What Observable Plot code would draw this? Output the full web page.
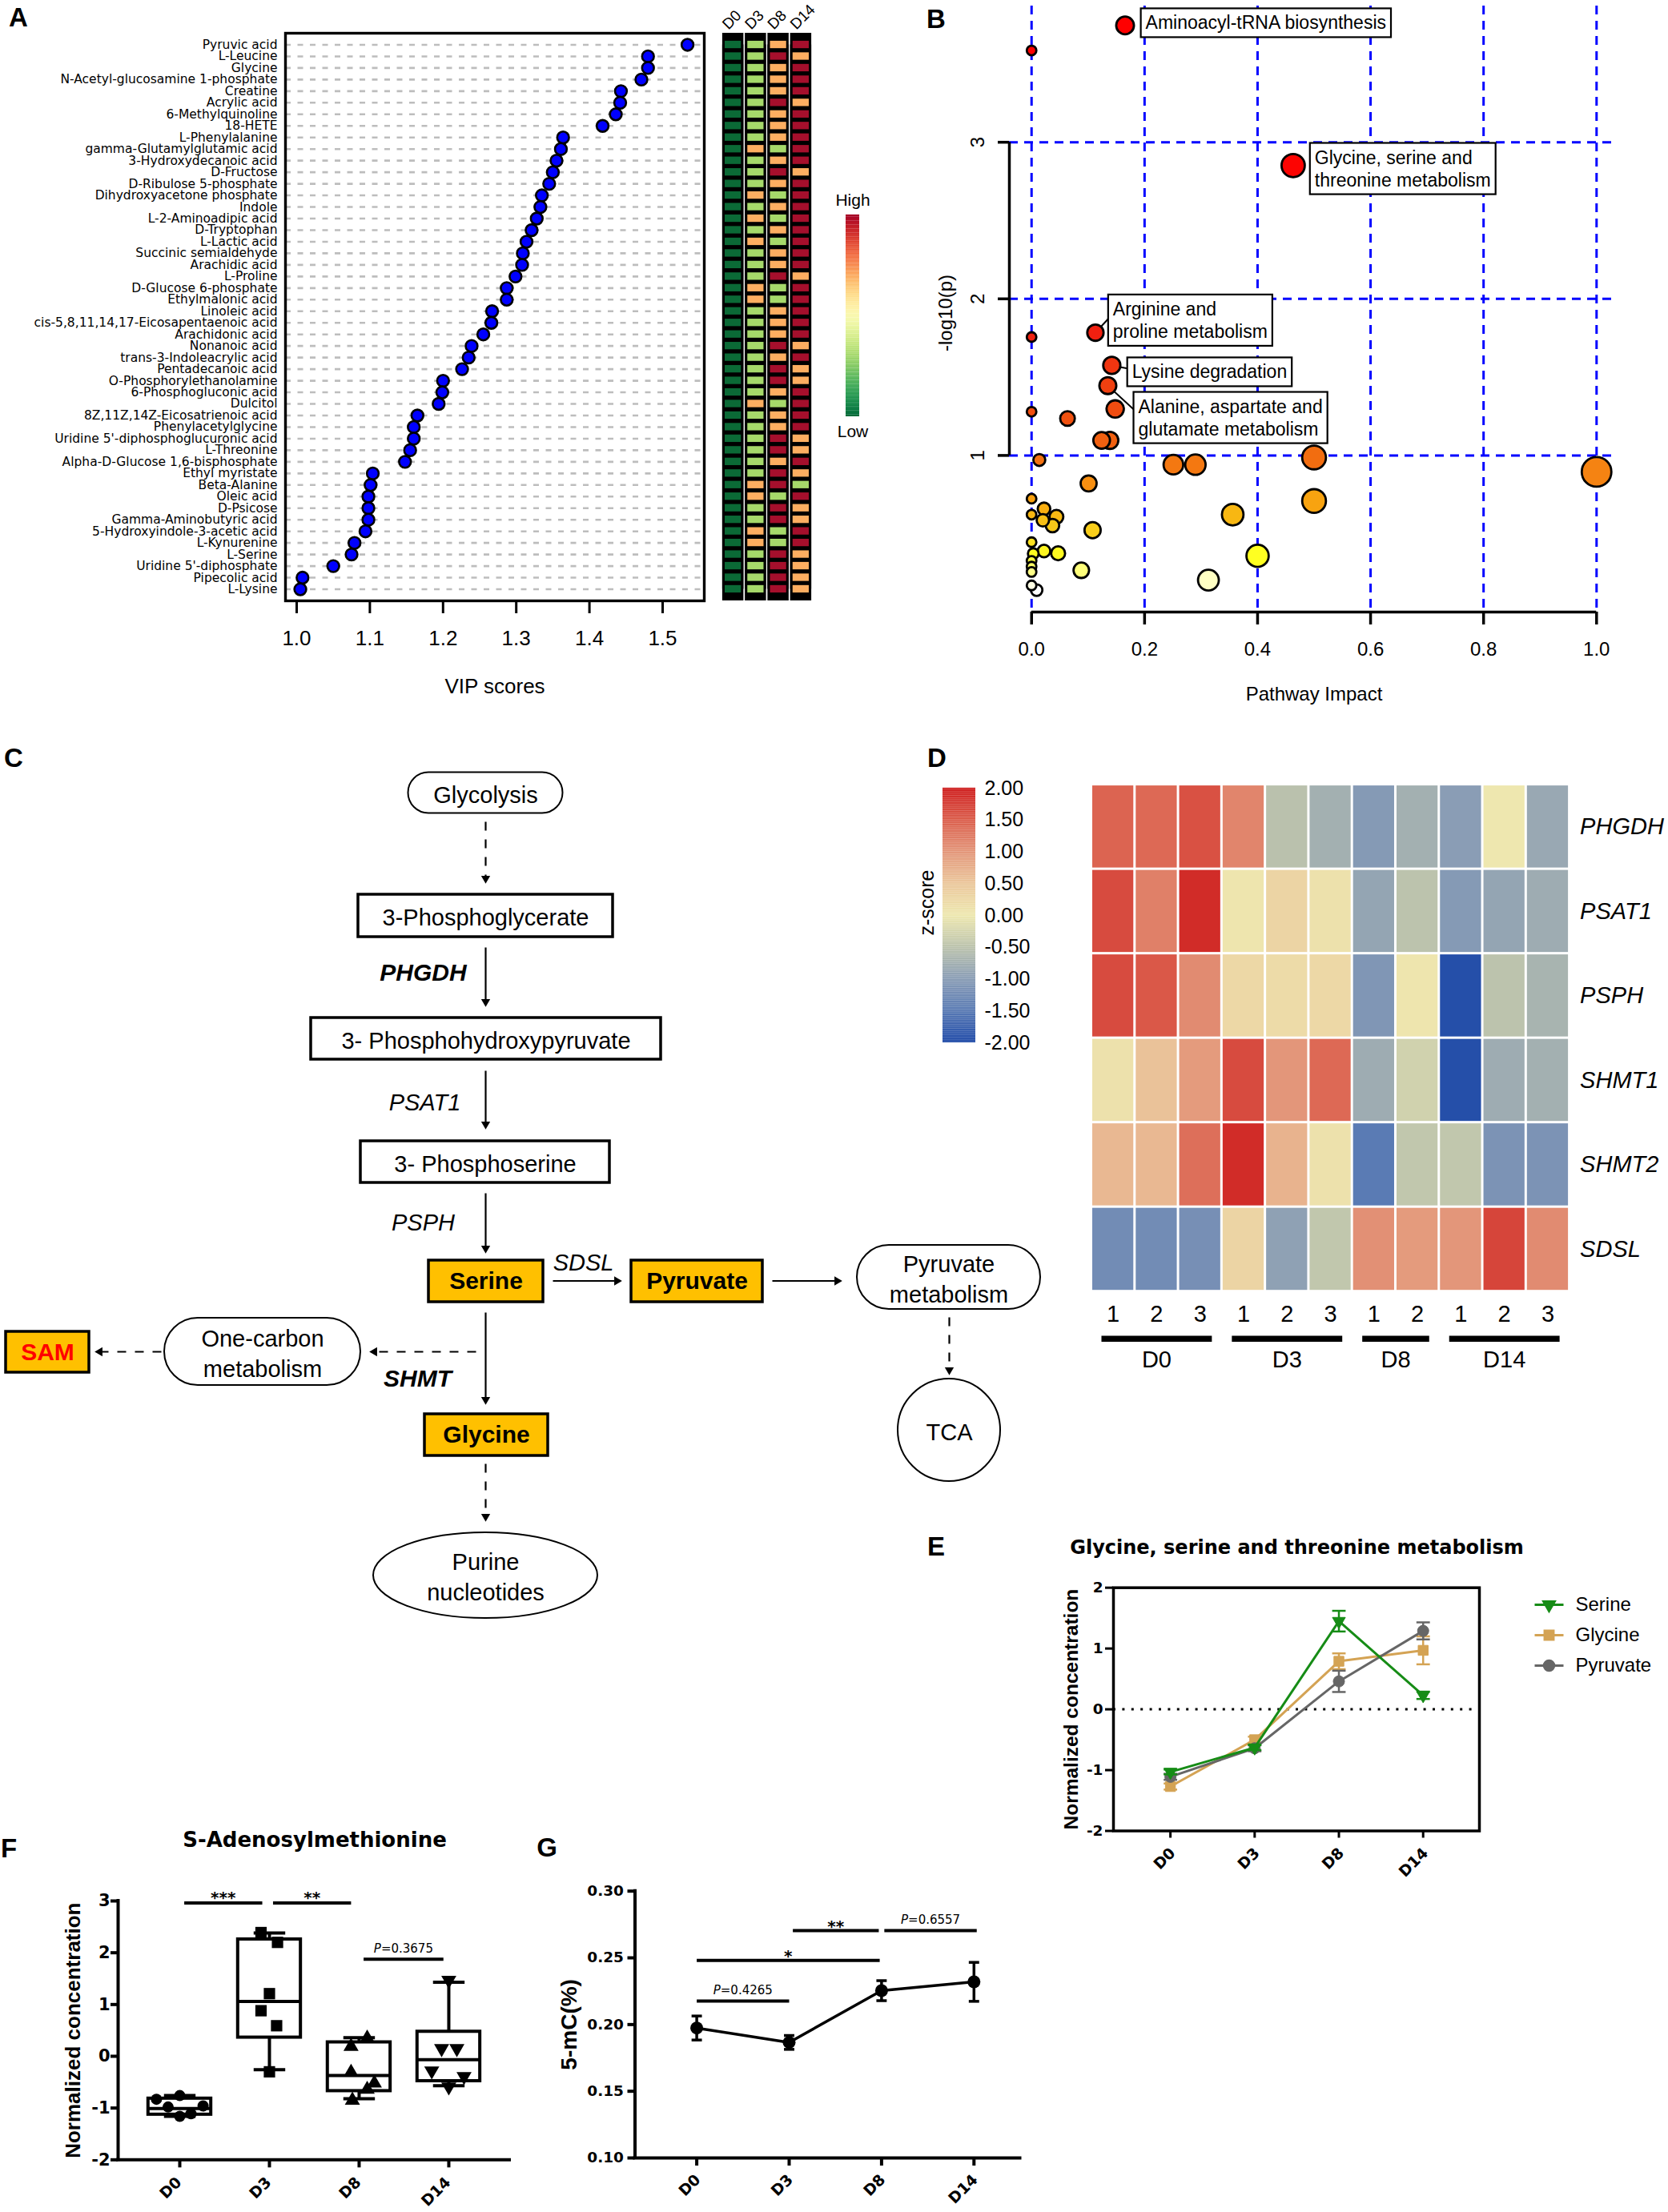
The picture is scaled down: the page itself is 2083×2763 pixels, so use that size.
<!DOCTYPE html>
<html>
<head>
<meta charset="utf-8">
<script src="https://cdn.jsdelivr.net/npm/d3@7"></script>
<script src="https://cdn.jsdelivr.net/npm/@observablehq/plot@0.6"></script>
<style>
html,body{margin:0;padding:0;background:#fff;}
#fig{position:relative;width:2083px;height:2763px;background:#fff;overflow:hidden;font-family:"Liberation Sans",Arial,Helvetica,sans-serif;color:#000;}
.panel{position:absolute;line-height:0;}
.panel svg{overflow:visible;max-width:none !important;}
.txt{position:absolute;white-space:nowrap;line-height:1;transform:translate(-50%,-50%);}
</style>
</head>
<body>
<div id="fig"></div>
<script>
// ================= DATA =================
// Panel A: VIP scores
const metabolites = ["Pyruvic acid","L-Leucine","Glycine","N-Acetyl-glucosamine 1-phosphate","Creatine","Acrylic acid","6-Methylquinoline","18-HETE","L-Phenylalanine","gamma-Glutamylglutamic acid","3-Hydroxydecanoic acid","D-Fructose","D-Ribulose 5-phosphate","Dihydroxyacetone phosphate","Indole","L-2-Aminoadipic acid","D-Tryptophan","L-Lactic acid","Succinic semialdehyde","Arachidic acid","L-Proline","D-Glucose 6-phosphate","Ethylmalonic acid","Linoleic acid","cis-5,8,11,14,17-Eicosapentaenoic acid","Arachidonic acid","Nonanoic acid","trans-3-Indoleacrylic acid","Pentadecanoic acid","O-Phosphorylethanolamine","6-Phosphogluconic acid","Dulcitol","8Z,11Z,14Z-Eicosatrienoic acid","Phenylacetylglycine","Uridine 5'-diphosphoglucuronic acid","L-Threonine","Alpha-D-Glucose 1,6-bisphosphate","Ethyl myristate","Beta-Alanine","Oleic acid","D-Psicose","Gamma-Aminobutyric acid","5-Hydroxyindole-3-acetic acid","L-Kynurenine","L-Serine","Uridine 5'-diphosphate","Pipecolic acid","L-Lysine"];
const vipScores = [1.534,1.480,1.480,1.471,1.443,1.442,1.436,1.418,1.364,1.361,1.355,1.350,1.345,1.335,1.333,1.328,1.321,1.314,1.309,1.308,1.299,1.287,1.287,1.267,1.266,1.255,1.239,1.235,1.226,1.200,1.199,1.194,1.165,1.160,1.160,1.155,1.148,1.104,1.101,1.098,1.098,1.098,1.094,1.079,1.075,1.050,1.008,1.005];
const vipTicks = [1.0,1.1,1.2,1.3,1.4,1.5];
const stripDays = ["D0","D3","D8","D14"];
// relative level (1 = low ... 4 = high)
const levelD0 = [1,1,1,1,1,1,1,1,1,1,1,1,1,1,1,1,1,1,1,1,1,1,1,1,1,1,1,1,1,1,1,1,1,1,1,1,1,1,1,1,1,1,1,1,1,1,1,1];
const levelD3 = [2,2,2,2,2,2,2,2,2,3,2,2,2,3,2,3,2,3,2,2,2,3,3,2,2,2,2,2,2,2,2,3,2,2,2,2,2,2,3,3,2,2,3,3,2,2,2,2];
const levelD8 = [3,4,3,3,3,4,3,3,3,2,3,4,3,2,3,2,3,2,3,3,4,2,2,3,3,3,4,3,4,4,3,2,3,3,4,4,3,4,4,2,4,4,2,2,4,4,4,4];
const levelD14 = [4,3,4,4,4,3,4,4,4,4,4,3,4,4,4,4,4,4,4,4,3,4,4,4,4,4,3,4,3,3,4,4,4,4,3,3,4,3,2,4,3,3,4,4,3,3,3,3];

// Panel B: pathway analysis
const pathwayImpact = [0.1655,0.000,0.463,0.113,0.000,0.142,0.135,0.148,0.000,0.0636,0.124,0.1385,0.0137,0.251,0.290,0.500,1.000,0.101,0.500,0.356,0.000,0.022,0.000,0.044,0.020,0.037,0.108,0.400,0.000,0.022,0.047,0.003,0.000,0.000,0.000,0.088,0.313,0.000,0.009];
const pathwayLogP = [3.746,3.586,2.851,1.784,1.756,1.575,1.446,1.297,1.279,1.236,1.096,1.096,0.971,0.941,0.941,0.987,0.895,0.821,0.709,0.622,0.724,0.659,0.622,0.608,0.586,0.552,0.523,0.359,0.446,0.390,0.375,0.373,0.327,0.290,0.256,0.267,0.204,0.170,0.140];
const bXTicks = [0,0.2,0.4,0.6,0.8,1.0];
const bYTicks = [1,2,3];
const bLabels = [
  {text:"Aminoacyl-tRNA biosynthesis", x:0.2018, y:3.768},
  {text:"Glycine, serine and\nthreonine metabolism", x:0.5011, y:2.837},
  {text:"Arginine and\nproline metabolism", x:0.144, y:1.869},
  {text:"Lysine degradation", x:0.1778, y:1.539},
  {text:"Alanine, aspartate and\nglutamate metabolism", x:0.1889, y:1.247}
];
const bLeaders = [
  {x1:0.113, y1:1.784, x2:0.139, y2:1.885},
  {x1:0.142, y1:1.575, x2:0.1716, y2:1.554},
  {x1:0.135, y1:1.446, x2:0.187, y2:1.273}
];

// Panel C: pathway diagram
const flowNodes = [
  {id:"gly", label:"Glycolysis", kind:"pathway"},
  {id:"pg3", label:"3-Phosphoglycerate", kind:"step"},
  {id:"php", label:"3- Phosphohydroxypyruvate", kind:"step"},
  {id:"ps", label:"3- Phosphoserine", kind:"step"},
  {id:"ser", label:"Serine", kind:"hit"},
  {id:"pyr", label:"Pyruvate", kind:"hit"},
  {id:"pyrm", label:"Pyruvate\nmetabolism", kind:"pathway"},
  {id:"tca", label:"TCA", kind:"circle"},
  {id:"one", label:"One-carbon\nmetabolism", kind:"pathway"},
  {id:"sam", label:"SAM", kind:"target"},
  {id:"glyc", label:"Glycine", kind:"hit"},
  {id:"pur", label:"Purine\nnucleotides", kind:"ellipse"}
];
const flowEdges = [
  {from:"gly", to:"pg3", line:"dashed"},
  {from:"pg3", to:"php", line:"solid"},
  {from:"php", to:"ps", line:"solid"},
  {from:"ps", to:"ser", line:"solid"},
  {from:"ser", to:"pyr", line:"solid"},
  {from:"pyr", to:"pyrm", line:"solid"},
  {from:"pyrm", to:"tca", line:"dashed"},
  {from:"ser", to:"glyc", line:"solid"},
  {from:"ser", to:"one", line:"dashed"},
  {from:"one", to:"sam", line:"dashed"},
  {from:"glyc", to:"pur", line:"dashed"}
];
const flowGenes = [
  {label:"PHGDH", bold:true, after:"pg3"},
  {label:"PSAT1", bold:false, after:"php"},
  {label:"PSPH", bold:false, after:"ps"},
  {label:"SDSL", bold:false, after:"ser"},
  {label:"SHMT", bold:true, after:"ser"}
];

// Panel D: gene expression z-scores
const genes = ["PHGDH","PSAT1","PSPH","SHMT1","SHMT2","SDSL"];
const sampleGroups = ["D0","D0","D0","D3","D3","D3","D8","D8","D14","D14","D14"];
const sampleReps = [1,2,3,1,2,3,1,2,1,2,3];
const zPHGDH = [1.45,1.40,1.60,1.15,-0.52,-0.75,-1.05,-0.75,-1.00,0.02,-0.85];
const zPSAT1 = [1.65,1.20,1.90,0.05,0.30,0.10,-0.90,-0.50,-1.05,-0.90,-0.80];
const zPSPH  = [1.65,1.55,1.10,0.25,0.20,0.25,-1.10,0.05,-1.95,-0.50,-0.70];
const zSHMT1 = [0.10,0.55,0.95,1.65,1.00,1.40,-0.80,-0.30,-1.95,-0.80,-0.75];
const zSHMT2 = [0.65,0.65,1.35,1.90,0.70,0.10,-1.50,-0.45,-0.45,-1.15,-1.15];
const zSDSL  = [-1.25,-1.25,-1.20,0.30,-0.95,-0.45,1.05,0.95,1.00,1.70,1.10];
const zLegendTicks = [2,1.5,1,0.5,0,-0.5,-1,-1.5,-2];

// Panel E: normalized concentrations (mean, SEM)
const eDays = ["D0","D3","D8","D14"];
const serineMean = [-1.03,-0.63,1.45,0.23];
const serineSem = [0.04,0.04,0.17,0.06];
const glycineMean = [-1.27,-0.50,0.79,0.97];
const glycineSem = [0.05,0.05,0.13,0.23];
const pyruvateMean = [-1.11,-0.64,0.46,1.29];
const pyruvateSem = [0.05,0.05,0.175,0.14];
const eYTicks = [-2,-1,0,1,2];

// Panel F: S-Adenosylmethionine box plots
const fGroups = ["D0","D3","D8","D14"];
const fMin = [-1.16,-0.26,-0.82,-0.57];
const fQ1 = [-1.127,0.362,-0.672,-0.48];
const fMedian = [-1.008,1.06,-0.372,-0.067];
const fQ3 = [-0.817,2.258,0.27,0.475];
const fMax = [-0.76,2.38,0.36,1.43];
const fValuesD0 = [-0.83,-0.76,-0.98,-1.16,-1.11,-0.96];
const fValuesD3 = [2.39,2.20,1.21,0.88,0.59,-0.30];
const fValuesD8 = [0.35,0.19,-0.31,-0.52,-0.64,-0.85];
const fValuesD14 = [1.47,0.15,0.15,-0.28,-0.39,-0.59];
const fJitterD0 = [-0.26,0,-0.13,0,0.125,0.26];
const fJitterD3 = [-0.094,0.09,0,-0.094,0.08,0];
const fJitterD8 = [0.09,-0.09,-0.09,0.17,0.09,-0.075];
const fJitterD14 = [0,-0.08,0.09,-0.19,0.17,0];
const fYTicks = [-2,-1,0,1,2,3];
const fSig = [
  {x1:0.05, x2:0.92, y:2.96, label:"***", kind:"star"},
  {x1:1.04, x2:1.91, y:2.96, label:"**", kind:"star"},
  {x1:2.05, x2:2.94, y:1.876, label:"0.3675", kind:"p"}
];

// Panel G: 5-mC (%)
const mcMean = [0.1974,0.1866,0.2254,0.2320];
const mcSem = [0.0090,0.0052,0.0075,0.0146];
const gYTicks = [0.10,0.15,0.20,0.25,0.30];
const gSig = [
  {x1:0, x2:1.0, y:0.2176, label:"0.4265", kind:"p"},
  {x1:0, x2:1.98, y:0.248, label:"*", kind:"star"},
  {x1:1.04, x2:1.97, y:0.2704, label:"**", kind:"star"},
  {x1:2.03, x2:3.03, y:0.2704, label:"0.6557", kind:"p"}
];

// ================= LAYOUT / HELPERS =================
const FONT = '"Liberation Sans", Arial, Helvetica, sans-serif';
const WIDE = '"DejaVu Sans", Verdana, sans-serif';
const fig = document.getElementById("fig");
const baseStyle = {fontFamily: FONT, background: "transparent", overflow: "visible", color: "#000", maxWidth: "none"};

function place(node, left, top) {
  const d = document.createElement("div");
  d.className = "panel";
  d.style.left = left + "px";
  d.style.top = top + "px";
  d.appendChild(node);
  fig.appendChild(d);
  return node;
}
function htmlText(txt, cx, cy, css) {
  const d = document.createElement("div");
  d.className = "txt";
  d.textContent = txt;
  d.style.left = cx + "px";
  d.style.top = cy + "px";
  Object.assign(d.style, css || {});
  fig.appendChild(d);
}

// ---------- Panel letters ----------
const panelLetters = ["A","B","C","D","E","F","G"];
const letterPos = [[23,21],[1169,23],[17,946],[1170,946],[1169,1931],[11,2308],[683,2307]];
panelLetters.forEach((L, i) => htmlText(L, letterPos[i][0], letterPos[i][1], {fontWeight: "bold", fontSize: "33px", fontFamily: FONT}));

// ================= PANEL A =================
const vipRows = metabolites.map((name, i) => ({name, vip: vipScores[i]}));
const chartA = Plot.plot({
  width: 890, height: 880,
  marginLeft: 356, marginRight: 11, marginTop: 41, marginBottom: 130,
  x: {domain: [0.9847, 1.5569], axis: null},
  y: {type: "point", domain: metabolites, padding: 1, round: false, axis: null},
  style: baseStyle,
  marks: [
    Plot.ruleY(metabolites, {y: d => d, stroke: "#bdbdbd", strokeWidth: 2.6, strokeDasharray: "7,8.5"}),
    Plot.dot(vipRows, {x: "vip", y: "name", r: 7.4, fill: "#0000ff", stroke: "#000", strokeWidth: 2.6}),
    Plot.frame({stroke: "#000", strokeWidth: 3.4}),
    Plot.text(metabolites, {y: d => d, frameAnchor: "left", dx: -10, textAnchor: "end", fontFamily: WIDE, fontSize: 15.5}),
    Plot.ruleX(vipTicks, {x: d => d, insetTop: 709, insetBottom: -16, strokeWidth: 3}),
    Plot.text(vipTicks, {x: d => d, frameAnchor: "bottom", textAnchor: "middle", dy: 55, text: d => d.toFixed(1), fontSize: 26}),
    Plot.text(["VIP scores"], {frameAnchor: "bottom", textAnchor: "middle", dy: 115, fontSize: 26})
  ]
});
place(chartA, 0, 0);

const stripLevels = [levelD0, levelD3, levelD8, levelD14];
const stripRows = [];
metabolites.forEach((name, i) => stripDays.forEach((day, j) => stripRows.push({name, day, level: stripLevels[j][i]})));
const chartA2 = Plot.plot({
  width: 145, height: 880,
  marginLeft: 11, marginRight: 21, marginTop: 48.3, marginBottom: 137.3,
  x: {type: "band", domain: stripDays, padding: 0, round: false, axis: null},
  y: {type: "band", domain: metabolites, padding: 0, round: false, axis: null},
  color: {type: "ordinal", domain: [1,2,3,4], range: ["#0b6a36","#a6d96a","#fdae61","#a50f2c"]},
  style: baseStyle,
  marks: [
    Plot.cell(stripRows, {x: "day", y: "name", fill: "#000", insetLeft: 0.9, insetRight: 0.9, insetTop: -7.3, insetBottom: -7.3}),
    Plot.cell(stripRows, {x: "day", y: "name", fill: "level", insetLeft: 4, insetRight: 4, insetTop: 2.6, insetBottom: 2.6}),
    Plot.text(stripDays, {x: d => d, frameAnchor: "top", dx: -6, dy: -11, rotate: -45, textAnchor: "start", lineAnchor: "bottom", fontSize: 19})
  ]
});
place(chartA2, 890, 0);

const rampA = d3.range(0, 1, 0.01);
const chartA3 = Plot.plot({
  width: 60, height: 340,
  marginLeft: 21, marginRight: 22, marginTop: 38, marginBottom: 50,
  x: {domain: [0, 1], axis: null}, y: {domain: [0, 1], axis: null},
  color: {type: "identity"},
  style: baseStyle,
  marks: [
    Plot.rect(rampA, {x1: 0, x2: 1, y1: d => d, y2: d => d + 0.0105, fill: d => d3.interpolateRdYlGn(1 - d - 0.005)}),
    Plot.text(["High"], {frameAnchor: "top", textAnchor: "middle", dy: -26, fontSize: 21}),
    Plot.text(["Low"], {frameAnchor: "bottom", textAnchor: "middle", dy: 25, fontSize: 21})
  ]
});
place(chartA3, 1035, 230);

// ================= PANEL B =================
const pathwayRows = pathwayImpact.map((impact, i) => ({impact, logp: pathwayLogP[i]}));
const bXDomain = [-0.0393, 1.0336];
const chartB = Plot.plot({
  width: 963, height: 880,
  marginLeft: 140, marginRight: 66, marginTop: 7, marginBottom: 116,
  x: {domain: bXDomain, axis: null},
  y: {domain: [0, 3.87], axis: null},
  r: {type: "sqrt", domain: [0, 1], range: [6, 18.5]},
  color: {type: "linear", domain: [0.14,0.20,0.27,0.36,0.45,0.55,0.65,0.75,0.90,1.00,1.25,1.50,1.80,3.00],
          range: ["#ffffff","#ffffc8","#ffff78","#ffff20","#fce020","#f8c818","#f8b010","#f89a10","#f58212","#f26a10","#f05010","#f03c10","#f01e10","#ff0000"], clamp: true},
  style: baseStyle,
  marks: [
    Plot.ruleX(bXTicks, {x: d => d, stroke: "#0000ff", strokeWidth: 3, strokeDasharray: "11,8"}),
    Plot.ruleY(bYTicks, {y: d => d, stroke: "#0000ff", strokeWidth: 3, strokeDasharray: "11,8"}),
    Plot.ruleY([0], {x1: bXTicks[0], x2: bXTicks[bXTicks.length - 1], strokeWidth: 3.5}),
    Plot.ruleX(bXTicks, {x: d => d, y1: 0, y2: 0, insetBottom: -16, strokeWidth: 3.5}),
    Plot.text(bXTicks, {x: d => d, y: 0, dy: 47, text: d => d.toFixed(1), fontSize: 24}),
    Plot.text(["Pathway Impact"], {x: 0.5, y: 0, dy: 103, fontSize: 24}),
    Plot.ruleX([bXDomain[0]], {y1: bYTicks[0], y2: bYTicks[bYTicks.length - 1], strokeWidth: 3.5}),
    Plot.ruleY(bYTicks, {y: d => d, x1: bXDomain[0], x2: bXDomain[0], insetLeft: -14, strokeWidth: 3.5}),
    Plot.text(bYTicks, {y: d => d, x: bXDomain[0], dx: -39, rotate: -90, text: d => String(d), fontSize: 24}),
    Plot.text(["-log10(p)"], {frameAnchor: "left", textAnchor: "middle", dx: -79, dy: 5, rotate: -90, fontSize: 24}),
    Plot.link(bLeaders, {x1: "x1", y1: "y1", x2: "x2", y2: "y2", strokeWidth: 2}),
    Plot.dot(pathwayRows, {x: "impact", y: "logp", r: "impact", fill: "logp", stroke: "#000", strokeWidth: 2.8}),
    Plot.text(bLabels, {x: "x", y: "y", text: "text", textAnchor: "start", lineAnchor: "middle", fontSize: 23, lineHeight: 1.22})
  ]
});
place(chartB, 1120, 0);
// boxes behind the pathway labels
const boxTexts = new Set(bLabels.map(d => d.text.replace(/\n/g, "")));
Array.from(chartB.querySelectorAll("text")).forEach(t => {
  if (!boxTexts.has(t.textContent)) return;
  const b = t.getBBox();
  const r = document.createElementNS("http://www.w3.org/2000/svg", "rect");
  r.setAttribute("x", b.x - 6);
  r.setAttribute("y", b.y - 5);
  r.setAttribute("width", b.width + 12);
  r.setAttribute("height", b.height + 10);
  r.setAttribute("fill", "#fff");
  r.setAttribute("stroke", "#000");
  r.setAttribute("stroke-width", "2.2");
  if (t.getAttribute("transform")) r.setAttribute("transform", t.getAttribute("transform"));
  t.parentNode.insertBefore(r, t);
});

// ================= PANEL C =================
// diagram layout (center x, center y, width, height) in figure pixels
const flowLayout = {
  gly:[606,990,193,51], pg3:[606,1143.5,318,53], php:[606.5,1297,437,52], ps:[605.5,1451,311,52],
  ser:[606.5,1600,143,52], pyr:[870,1600,164,52], pyrm:[1184.5,1595,229,80], tca:[1185,1786,128,128],
  one:[327.5,1688,245,84], sam:[59,1688.5,104,51], glyc:[607,1792,154,52], pur:[606,1967.5,280,107]
};
const edgeLayout = {
  "gly-pg3":[606,1026,606,1103], "pg3-php":[606,1183,606,1257], "php-ps":[606,1337,606,1410],
  "ps-ser":[606,1490,606,1565], "ser-pyr":[690,1599.5,776,1599.5], "pyr-pyrm":[964,1599.5,1051,1599.5],
  "pyrm-tca":[1185,1645,1185,1717], "ser-glyc":[606,1639,606,1754], "ser-one":[594,1688,461,1688],
  "one-sam":[201,1688,118,1688], "glyc-pur":[606,1828,606,1900]
};
const geneLayout = {PHGDH:[528,1215], PSAT1:[530,1377], PSPH:[528,1527], SDSL:[728,1577], SHMT:[521,1722]};

const nodeRows = flowNodes.map(n => { const [cx, cy, w, h] = flowLayout[n.id]; return {...n, cx, cy, w, h}; });
const edgeRows = flowEdges.map(e => {
  const [x1, y1, x2, y2] = edgeLayout[e.from + "-" + e.to];
  const L = Math.hypot(x2 - x1, y2 - y1), ux = (x2 - x1) / L, uy = (y2 - y1) / L;
  return {...e, x1, y1, x2, y2, ux, uy, angle: Math.atan2(ux, -uy) * 180 / Math.PI};
});
const geneRows = flowGenes.map(g => ({...g, x: geneLayout[g.label][0], y: geneLayout[g.label][1]}));
const HEAD = 9, HEADC = 6.2;
const nodeMarks = nodeRows.map(n => {
  const hl = n.kind === "hit" || n.kind === "target";
  const round = n.kind === "pathway" ? {rx: n.h / 2, ry: n.h / 2}
    : (n.kind === "ellipse" || n.kind === "circle") ? {rx: n.w / 2, ry: n.h / 2} : {};
  return Plot.rect([n], {
    x1: d => d.cx - d.w / 2, x2: d => d.cx + d.w / 2, y1: d => d.cy - d.h / 2, y2: d => d.cy + d.h / 2,
    fill: hl ? "#ffc000" : "#ffffff", stroke: "#000", strokeWidth: (n.kind === "step" || hl) ? 3.5 : 2, ...round
  });
});
const chartC = Plot.plot({
  width: 1340, height: 1140, margin: 0,
  x: {domain: [0, 1340], range: [0, 1340], axis: null},
  y: {domain: [910, 2050], range: [0, 1140], axis: null},
  style: baseStyle,
  marks: [
    Plot.link(edgeRows.filter(e => e.line === "solid"), {x1: "x1", y1: "y1", x2: d => d.x2 - d.ux * HEAD, y2: d => d.y2 - d.uy * HEAD, strokeWidth: 2.2}),
    Plot.link(edgeRows.filter(e => e.line === "dashed"), {x1: "x1", y1: "y1", x2: d => d.x2 - d.ux * HEAD, y2: d => d.y2 - d.uy * HEAD, strokeWidth: 2.2, strokeDasharray: "11,11"}),
    Plot.dot(edgeRows, {x: d => d.x2 - d.ux * HEADC, y: d => d.y2 - d.uy * HEADC, symbol: "triangle", r: 4.2, fill: "#000", rotate: "angle"}),
    ...nodeMarks,
    Plot.text(nodeRows.filter(n => ["step","pathway","ellipse","circle"].includes(n.kind)), {x: "cx", y: "cy", text: "label", fontSize: 29, lineHeight: 1.31}),
    Plot.text(nodeRows.filter(n => n.kind === "hit"), {x: "cx", y: "cy", text: "label", fontSize: 30, fontWeight: "bold"}),
    Plot.text(nodeRows.filter(n => n.kind === "target"), {x: "cx", y: "cy", text: "label", fontSize: 30, fontWeight: "bold", fill: "#ff0000"}),
    Plot.text(geneRows.filter(g => g.bold), {x: "x", y: "y", text: "label", fontSize: 30, fontWeight: "bold", fontStyle: "italic"}),
    Plot.text(geneRows.filter(g => !g.bold), {x: "x", y: "y", text: "label", fontSize: 29, fontStyle: "italic"})
  ]
});
place(chartC, 0, 910);

// ================= PANEL D =================
const zByGene = [zPHGDH, zPSAT1, zPSPH, zSHMT1, zSHMT2, zSDSL];
const dCells = [];
genes.forEach((g, r) => zByGene[r].forEach((z, c) => dCells.push({gene: g, row: r, col: c, z})));
const dGroups = Array.from(d3.group(sampleGroups.map((g, i) => ({g, i})), d => d.g), ([name, v]) => ({name, first: v[0].i, last: v[v.length - 1].i}));
const zDomain = [-2,-1.5,-1,-0.5,0,0.5,1,1.5,2];
const zColors = ["#1f4aa8","#5a7bb4","#8a9db5","#bcc3ad","#eee8b0","#ebc79c","#e3967a","#db5e4c","#cf1f1f"];
const nCols = sampleGroups.length, nRows = genes.length;
const chartD = Plot.plot({
  width: 943, height: 840,
  marginLeft: 222.5, marginRight: 123.4, marginTop: 69.6, marginBottom: 137.3,
  x: {domain: [-0.5, nCols - 0.5], axis: null},
  y: {domain: [-0.5, nRows - 0.5], reverse: true, axis: null},
  color: {type: "linear", domain: zDomain, range: zColors, clamp: true},
  style: baseStyle,
  marks: [
    Plot.rect(dCells, {x1: d => d.col - 0.5, x2: d => d.col + 0.5, y1: d => d.row - 0.5, y2: d => d.row + 0.5, fill: "z", inset: 1.5}),
    Plot.text(genes, {x: nCols - 0.5, y: (d, i) => i, dx: 13, textAnchor: "start", fontStyle: "italic", fontSize: 29}),
    Plot.text(sampleReps, {x: (d, i) => i, y: nRows - 0.5, dy: 28.3, text: d => String(d), fontSize: 29}),
    Plot.link(dGroups, {x1: d => d.first - 0.27, x2: d => d.last + 0.27, y1: nRows - 0.5, y2: nRows - 0.5, dy: 59, strokeWidth: 7.5}),
    Plot.text(dGroups, {x: d => (d.first + d.last) / 2, y: nRows - 0.5, dy: 85.3, text: "name", fontSize: 29})
  ]
});
place(chartD, 1140, 910);

const rampD = d3.range(-2, 2, 0.02);
const chartDL = Plot.plot({
  width: 140, height: 370,
  marginLeft: 37, marginRight: 62, marginTop: 24, marginBottom: 28,
  x: {domain: [0, 1], axis: null}, y: {domain: [-2, 2], axis: null},
  color: {type: "linear", domain: zDomain, range: zColors, clamp: true},
  style: baseStyle,
  marks: [
    Plot.rect(rampD, {x1: 0, x2: 1, y1: d => d, y2: d => d + 0.022, fill: d => d + 0.01}),
    Plot.text(zLegendTicks, {x: 1, y: d => d, dx: 11, textAnchor: "start", text: d => d.toFixed(2), fontSize: 25}),
    Plot.text(["z-score"], {frameAnchor: "left", textAnchor: "middle", dx: -20, dy: -16, rotate: -90, fontSize: 25})
  ]
});
place(chartDL, 1140, 960);

// ================= PANEL E =================
const eSeries = [
  {name: "Serine", mean: serineMean, sem: serineSem},
  {name: "Glycine", mean: glycineMean, sem: glycineSem},
  {name: "Pyruvate", mean: pyruvateMean, sem: pyruvateSem}
];
const eColors = {Serine: "#168c16", Glycine: "#d4a354", Pyruvate: "#666666"};
const eSymbols = {Serine: "triangle", Glycine: "square", Pyruvate: "circle"};
const eRows = [];
eSeries.forEach(s => s.mean.forEach((m, i) => eRows.push({series: s.name, i, mean: m, lo: m - s.sem[i], hi: m + s.sem[i]})));
const eXDomain = [-0.676, 3.668];
const ECAP = 0.08;
const eDrawOrder = ["Glycine", "Pyruvate", "Serine"];
const eSeriesMarks = eDrawOrder.flatMap(name => {
  const rows = eRows.filter(d => d.series === name);
  const col = eColors[name];
  return [
    Plot.line(rows, {x: "i", y: "mean", stroke: col, strokeWidth: 3}),
    Plot.link(rows, {x1: "i", x2: "i", y1: "lo", y2: "hi", stroke: col, strokeWidth: 2.5}),
    Plot.link(rows, {x1: d => d.i - ECAP, x2: d => d.i + ECAP, y1: "hi", y2: "hi", stroke: col, strokeWidth: 2.5}),
    Plot.link(rows, {x1: d => d.i - ECAP, x2: d => d.i + ECAP, y1: "lo", y2: "lo", stroke: col, strokeWidth: 2.5}),
    Plot.dot(rows, {x: "i", y: "mean", symbol: eSymbols[name], r: name === "Serine" ? 6 : 7, fill: col, stroke: col, strokeWidth: 1, rotate: name === "Serine" ? 180 : 0})
  ];
});
const chartE = Plot.plot({
  width: 943, height: 400,
  marginLeft: 250, marginRight: 236, marginTop: 32.7, marginBottom: 63.5,
  x: {domain: eXDomain, axis: null}, y: {domain: [-2, 2], axis: null},
  style: baseStyle,
  marks: [
    Plot.ruleY([0], {strokeDasharray: "3,8.4", strokeWidth: 3}),
    ...eSeriesMarks,
    Plot.frame({stroke: "#000", strokeWidth: 3.5}),
    Plot.ruleY(eYTicks, {y: d => d, x1: eXDomain[0], x2: eXDomain[0], insetLeft: -10, strokeWidth: 3}),
    Plot.text(eYTicks, {y: d => d, x: eXDomain[0], dx: -13, textAnchor: "end", text: d => String(d), fontFamily: WIDE, fontWeight: "bold", fontSize: 18.5}),
    Plot.ruleX(eDays, {x: (d, i) => i, y1: -2, y2: -2, insetBottom: -9, strokeWidth: 3}),
    Plot.text(eDays, {x: (d, i) => i, y: -2, dx: 3, dy: 24.5, rotate: -45, textAnchor: "end", fontFamily: WIDE, fontWeight: "bold", fontSize: 19}),
    Plot.text(["Normalized concentration"], {x: eXDomain[0], y: 0, dx: -52, textAnchor: "middle", rotate: -90, fontWeight: "bold", fontSize: 24.5})
  ]
});
place(chartE, 1140, 1950);
htmlText("Glycine, serine and threonine metabolism", 1619.5, 1933, {fontFamily: WIDE, fontWeight: "bold", fontSize: "24px"});

const eLegendOrder = ["Serine", "Glycine", "Pyruvate"];
const chartEL = Plot.plot({
  width: 183, height: 120,
  marginLeft: 16, marginRight: 131, marginTop: 24, marginBottom: 20,
  x: {domain: [0, 1], axis: null},
  y: {type: "point", domain: eLegendOrder, padding: 0, round: false, axis: null},
  color: {type: "identity"},
  style: baseStyle,
  marks: [
    Plot.link(eLegendOrder, {x1: 0, x2: 1, y1: d => d, y2: d => d, stroke: d => eColors[d], strokeWidth: 3}),
    ...eLegendOrder.map(name => Plot.dot([name], {x: 0.5, y: d => d, symbol: eSymbols[name], r: name === "Serine" ? 6 : 7, fill: eColors[name], stroke: eColors[name], rotate: name === "Serine" ? 180 : 0})),
    Plot.text(eLegendOrder, {x: 1, y: d => d, dx: 15, textAnchor: "start", fontSize: 24})
  ]
});
place(chartEL, 1900, 1980);

// ================= PANEL F =================
const fValues = [fValuesD0, fValuesD3, fValuesD8, fValuesD14];
const fJitter = [fJitterD0, fJitterD3, fJitterD8, fJitterD14];
const fBoxes = fGroups.map((g, i) => ({g, i, min: fMin[i], q1: fQ1[i], med: fMedian[i], q3: fQ3[i], max: fMax[i]}));
const fPoints = [];
fGroups.forEach((g, i) => fValues[i].forEach((v, k) => fPoints.push({g, i, v, jit: fJitter[i][k]})));
const fXDomain = [-0.6875, 3.679];
const BOXW = 0.35, CAPW = 0.176;
const chartF = Plot.plot({
  width: 650, height: 463,
  marginLeft: 147, marginRight: 14, marginTop: 74, marginBottom: 65.7,
  x: {domain: fXDomain, axis: null}, y: {domain: [-2, 3], axis: null},
  style: baseStyle,
  marks: [
    Plot.ruleY([-2], {x1: fXDomain[0], x2: fXDomain[1], strokeWidth: 4, strokeLinecap: "square"}),
    Plot.ruleX([fXDomain[0]], {y1: -2, y2: 3, strokeWidth: 4, strokeLinecap: "square"}),
    Plot.ruleY(fYTicks, {y: d => d, x1: fXDomain[0], x2: fXDomain[0], insetLeft: -9, strokeWidth: 4}),
    Plot.text(fYTicks, {y: d => d, x: fXDomain[0], dx: -10, textAnchor: "end", text: d => String(d), fontFamily: WIDE, fontWeight: "bold", fontSize: 21}),
    Plot.ruleX(fGroups, {x: (d, i) => i, y1: -2, y2: -2, insetBottom: -10, strokeWidth: 4}),
    Plot.text(fGroups, {x: (d, i) => i, y: -2, dx: -1, dy: 25, rotate: -45, textAnchor: "end", fontFamily: WIDE, fontWeight: "bold", fontSize: 19}),
    Plot.text(["Normalized concentration"], {x: fXDomain[0], y: 0.5, dx: -56, rotate: -90, fontWeight: "bold", fontSize: 26}),
    Plot.link(fBoxes, {x1: "i", x2: "i", y1: "q3", y2: "max", strokeWidth: 4}),
    Plot.link(fBoxes, {x1: "i", x2: "i", y1: "min", y2: "q1", strokeWidth: 4}),
    Plot.link(fBoxes, {x1: d => d.i - CAPW, x2: d => d.i + CAPW, y1: "max", y2: "max", strokeWidth: 4}),
    Plot.link(fBoxes, {x1: d => d.i - CAPW, x2: d => d.i + CAPW, y1: "min", y2: "min", strokeWidth: 4}),
    Plot.rect(fBoxes, {x1: d => d.i - BOXW, x2: d => d.i + BOXW, y1: "q1", y2: "q3", fill: "none", stroke: "#000", strokeWidth: 4}),
    Plot.link(fBoxes, {x1: d => d.i - BOXW, x2: d => d.i + BOXW, y1: "med", y2: "med", strokeWidth: 4}),
    Plot.dot(fPoints.filter(d => d.g === "D0"), {x: d => d.i + d.jit, y: "v", r: 7, fill: "#000", symbol: "circle"}),
    Plot.dot(fPoints.filter(d => d.g === "D3"), {x: d => d.i + d.jit, y: "v", r: 8, fill: "#000", symbol: "square"}),
    Plot.dot(fPoints.filter(d => d.g === "D8"), {x: d => d.i + d.jit, y: "v", r: 7, fill: "#000", symbol: "triangle"}),
    Plot.dot(fPoints.filter(d => d.g === "D14"), {x: d => d.i + d.jit, y: "v", r: 7, fill: "#000", symbol: "triangle", rotate: 180}),
    Plot.link(fSig, {x1: "x1", x2: "x2", y1: "y", y2: "y", strokeWidth: 4}),
    Plot.text(fSig.filter(d => d.kind === "star"), {x: d => (d.x1 + d.x2) / 2, y: "y", dy: -6, text: "label", fontFamily: WIDE, fontWeight: "bold", fontSize: 20}),
    Plot.text(fSig.filter(d => d.kind === "p"), {x: d => (d.x1 + d.x2) / 2, y: "y", dx: -28, dy: -13, text: () => "P", textAnchor: "end", fontStyle: "italic", fontFamily: WIDE, fontSize: 15}),
    Plot.text(fSig.filter(d => d.kind === "p"), {x: d => (d.x1 + d.x2) / 2, y: "y", dx: -28, dy: -13, text: d => "=" + d.label, textAnchor: "start", fontFamily: WIDE, fontSize: 15})
  ]
});
place(chartF, 0, 2300);
htmlText("S-Adenosylmethionine", 393, 2298, {fontFamily: WIDE, fontWeight: "bold", fontSize: "26px"});

// ================= PANEL G =================
const gRows = mcMean.map((m, i) => ({day: fGroups[i], i, mean: m, lo: m - mcSem[i], hi: m + mcSem[i]}));
const gXDomain = [-0.668, 3.5];
const GCAP = 0.056;
const chartG = Plot.plot({
  width: 620, height: 463,
  marginLeft: 132.5, marginRight: 6.5, marginTop: 61.7, marginBottom: 68,
  x: {domain: gXDomain, axis: null}, y: {domain: [0.10, 0.30], axis: null},
  style: baseStyle,
  marks: [
    Plot.ruleY([0.10], {x1: gXDomain[0], x2: gXDomain[1], strokeWidth: 4, strokeLinecap: "square"}),
    Plot.ruleX([gXDomain[0]], {y1: 0.10, y2: 0.30, strokeWidth: 4, strokeLinecap: "square"}),
    Plot.ruleY(gYTicks, {y: d => d, x1: gXDomain[0], x2: gXDomain[0], insetLeft: -9, strokeWidth: 4}),
    Plot.text(gYTicks, {y: d => d, x: gXDomain[0], dx: -14, textAnchor: "end", text: d => d.toFixed(2), fontFamily: WIDE, fontWeight: "bold", fontSize: 18.5}),
    Plot.ruleX(fGroups, {x: (d, i) => i, y1: 0.10, y2: 0.10, insetBottom: -10, strokeWidth: 4}),
    Plot.text(fGroups, {x: (d, i) => i, y: 0.10, dx: 1.5, dy: 24, rotate: -45, textAnchor: "end", fontFamily: WIDE, fontWeight: "bold", fontSize: 19}),
    Plot.text(["5-mC(%)"], {x: gXDomain[0], y: 0.20, dx: -81.5, rotate: -90, fontWeight: "bold", fontSize: 28}),
    Plot.line(gRows, {x: "i", y: "mean", strokeWidth: 3.5}),
    Plot.link(gRows, {x1: "i", x2: "i", y1: "lo", y2: "hi", strokeWidth: 3.5}),
    Plot.link(gRows, {x1: d => d.i - GCAP, x2: d => d.i + GCAP, y1: "hi", y2: "hi", strokeWidth: 3.5}),
    Plot.link(gRows, {x1: d => d.i - GCAP, x2: d => d.i + GCAP, y1: "lo", y2: "lo", strokeWidth: 3.5}),
    Plot.dot(gRows, {x: "i", y: "mean", r: 8, fill: "#000"}),
    Plot.link(gSig, {x1: "x1", x2: "x2", y1: "y", y2: "y", strokeWidth: 4}),
    Plot.text(gSig.filter(d => d.kind === "star"), {x: d => (d.x1 + d.x2) / 2, y: "y", dy: -5, text: "label", fontFamily: WIDE, fontWeight: "bold", fontSize: 20}),
    Plot.text(gSig.filter(d => d.kind === "p"), {x: d => (d.x1 + d.x2) / 2, y: "y", dx: -28, dy: -13, text: () => "P", textAnchor: "end", fontStyle: "italic", fontFamily: WIDE, fontSize: 15}),
    Plot.text(gSig.filter(d => d.kind === "p"), {x: d => (d.x1 + d.x2) / 2, y: "y", dx: -28, dy: -13, text: d => "=" + d.label, textAnchor: "start", fontFamily: WIDE, fontSize: 15})
  ]
});
place(chartG, 660, 2300);
</script>
</body>
</html>
